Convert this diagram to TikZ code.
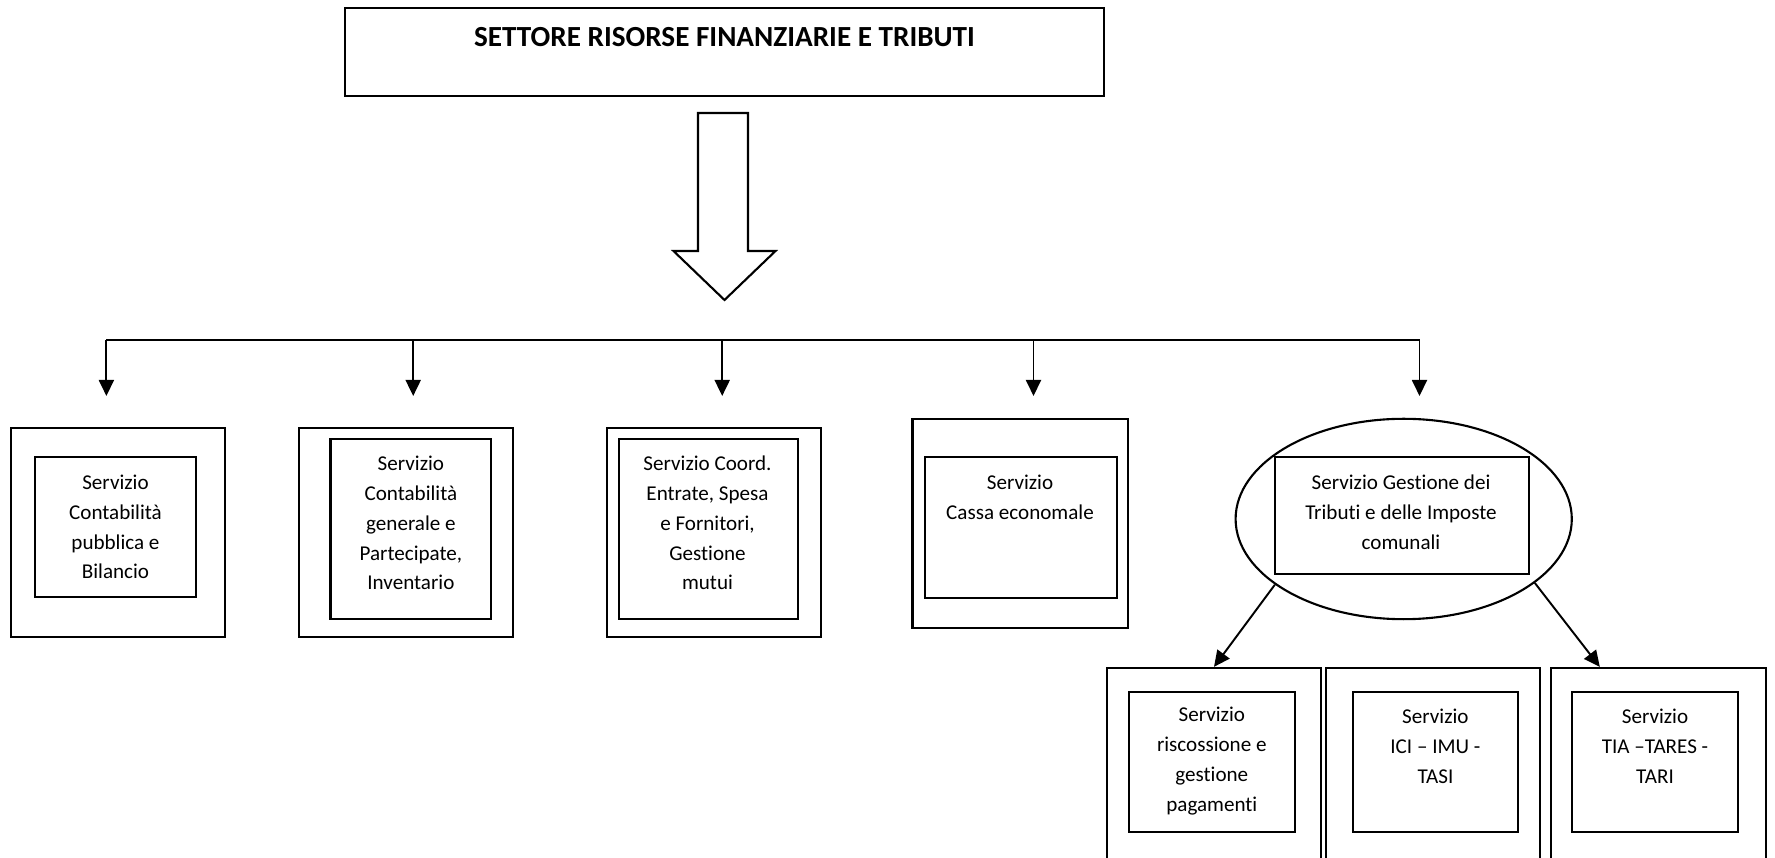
\documentclass[tikz,border=0pt]{standalone}
\usepackage{fontspec}
\setmainfont{Carlito}[RawFeature=-liga]
\usetikzlibrary{positioning, shapes.geometric, arrows.meta, calc}
\tikzset{
	outerbox/.style={draw, line width=0.6pt, minimum width=2.14cm, minimum height=2.09cm, inner sep=0pt}
}
\tikzset{
	innerbox/.style={draw, line width=0.6pt, inner sep=0pt}
}
\tikzset{
	servtext/.style={font=\fontsize{6pt}{8.5pt}\selectfont, align=center, inner sep=0pt}
}
\tikzset{
	headtext/.style={font=\fontsize{8.3pt}{10pt}\selectfont\bfseries, inner sep=0pt}
}
\tikzset{
	tiparrow/.style={line width=0.55pt, -{Triangle[length=1.6mm, width=1.5mm]}}
}
\begin{document}
\begin{tikzpicture}

			\clip (0,0) rectangle (17.75,-8.58);

			\begin{scope}
				\node[draw, line width=0.6pt, minimum width=7.59cm, minimum height=0.88cm] (top) at (7.245,-0.52) {};
				\node[headtext] (toptext) at (7.245,-0.37) {SETTORE RISORSE FINANZIARIE E TRIBUTI};
				\draw[line width=0.6pt, line join=miter] (6.98,-1.13) -- (7.48,-1.13) -- (7.48,-2.51) -- (7.755,-2.51) -- (7.245,-3.00) -- (6.735,-2.51) -- (6.98,-2.51) -- cycle;
			\end{scope}

			\begin{scope}
				\coordinate (bA) at (1.064,-3.40);
				\coordinate (bB) at (4.132,-3.40);
				\coordinate (bC) at (7.222,-3.40);
				\coordinate (bD) at (10.335,-3.40);
				\coordinate (bE) at (14.195,-3.40);

				\coordinate (tA) at (1.064,-3.96);
				\coordinate (tB) at (4.132,-3.96);
				\coordinate (tC) at (7.222,-3.96);
				\coordinate (tD) at (10.335,-3.96);
				\coordinate (tE) at (14.195,-3.96);

				\draw[line width=0.55pt] (bA) -- (bE);
				\draw[tiparrow] (bA) -- (tA);
				\draw[tiparrow] (bB) -- (tB);
				\draw[tiparrow] (bC) -- (tC);
				\draw[tiparrow] (bD) -- (tD);
				\draw[tiparrow] (bE) -- (tE);
			\end{scope}

			\begin{scope}
				\node[outerbox] (oA) at (1.183,-5.327) {};
				\node[outerbox] (oB) at (4.058,-5.327) {};
				\node[outerbox] (oC) at (7.138,-5.327) {};
				\node[outerbox, minimum width=2.151cm, minimum height=2.095cm] (oD) at (10.2,-5.236) {};

				\node[innerbox, minimum width=1.607cm, minimum height=1.393cm] (iA) at (1.155,-5.27) {};
				\node[innerbox, minimum width=1.608cm, minimum height=1.80cm] (iB) at (4.109,-5.292) {};
				\node[innerbox, minimum width=1.789cm, minimum height=1.80cm] (iC) at (7.087,-5.292) {};
				\node[innerbox, minimum width=1.925cm, minimum height=1.404cm] (iD) at (10.21,-5.275) {};

				\node[servtext] (sA) at (1.155,-5.27) {Servizio\\Contabilità\\pubblica e\\Bilancio};
				\node[servtext] (sB) at (4.109,-5.23) {Servizio\\Contabilità\\generale e\\Partecipate,\\Inventario};
				\node[servtext] (sC) at (7.075,-5.23) {Servizio Coord.\\Entrate, Spesa\\e Fornitori,\\Gestione\\mutui};
				\node[servtext] (sD) at (10.20,-4.97) {Servizio\\Cassa economale};
			\end{scope}

			\begin{scope}
				\node[draw, ellipse, line width=0.6pt, minimum width=3.362cm, minimum height=2.004cm, inner sep=0pt] (eT) at (14.037,-5.19) {};
				\node[innerbox, minimum width=2.547cm, minimum height=1.166cm] (iT) at (14.02,-5.156) {};
				\node[servtext] (sT) at (14.01,-5.12) {Servizio Gestione dei\\Tributi e delle Imposte\\comunali};
			\end{scope}

			\begin{scope}
				\node[outerbox] (rA) at (12.14,-7.724) {};
				\node[outerbox, minimum width=2.139cm] (rB) at (14.326,-7.724) {};
				\node[outerbox, minimum width=2.151cm] (rC) at (16.584,-7.724) {};

				\node[innerbox, minimum width=1.664cm, minimum height=1.403cm] (jA) at (12.118,-7.619) {};
				\node[innerbox, minimum width=1.653cm, minimum height=1.403cm] (jB) at (14.354,-7.619) {};
				\node[innerbox, minimum width=1.653cm, minimum height=1.403cm] (jC) at (16.55,-7.619) {};

				\node[servtext] (uA) at (12.118,-7.613) {Servizio\\riscossione e\\gestione\\pagamenti};
				\node[servtext] (uB) at (14.354,-7.466) {Servizio\\ICI – IMU -\\TASI};
				\node[servtext] (uC) at (16.55,-7.466) {Servizio\\TIA –TARES -\\TARI};

				\coordinate (tC2) at ($(rC.north west)+(0.5,0)$);
				\draw[tiparrow] (eT.207) -- (rA.north);
				\draw[tiparrow] (eT.334) -- (tC2);
			\end{scope}

		\end{tikzpicture}
\end{document}
